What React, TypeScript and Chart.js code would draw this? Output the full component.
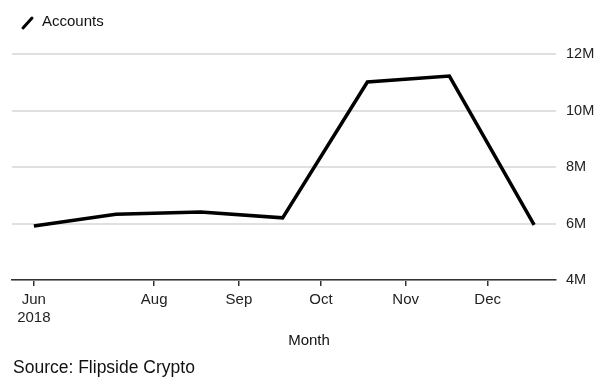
import React, { useEffect, useRef } from "react";
import { Chart, registerables } from "chart.js";

Chart.register(...registerables);

const seriesName = "Accounts";
const pointDates = ["2018-06-18", "2018-07-18", "2018-08-18", "2018-09-17", "2018-10-18", "2018-11-17", "2018-12-18"];
const accounts = [5910000, 6330000, 6410000, 6200000, 11010000, 11220000, 5950000];
const tickDates = ["2018-06-18", "2018-08-01", "2018-09-01", "2018-10-01", "2018-11-01", "2018-12-01"];
const tickLabels: (string | string[])[] = [["Jun", "2018"], "Aug", "Sep", "Oct", "Nov", "Dec"];
const xDomain = ["2018-06-10", "2018-12-26"];
const yTicks = [4000000, 6000000, 8000000, 10000000, 12000000];
const xTitle = "Month";
const sourceText = "Source: Flipside Crypto";

const EPOCH = Date.UTC(2018, 5, 1);
const toDay = (s: string) => {
  const [y, m, d] = s.split("-").map(Number);
  return Math.round((Date.UTC(y, m - 1, d) - EPOCH) / 86400000);
};

const FONT = "'Liberation Sans', Arial, Helvetica, sans-serif";

export default function App() {
  const ref = useRef<HTMLCanvasElement>(null);
  useEffect(() => {
    if (!ref.current) return;
    const tickDays = tickDates.map(toDay);
    const textPlugin = {
      id: "texts",
      afterDraw(chart: any) {
        const ctx = chart.ctx;
        ctx.save();
        ctx.strokeStyle = "#000";
        ctx.lineWidth = 3;
        ctx.lineCap = "round";
        ctx.beginPath();
        ctx.moveTo(23, 28);
        ctx.lineTo(32, 18);
        ctx.stroke();
        ctx.fillStyle = "#111";
        ctx.textBaseline = "middle";
        ctx.textAlign = "left";
        ctx.font = `15px ${FONT}`;
        ctx.fillText(seriesName, 42, 22);
        ctx.textAlign = "center";
        ctx.font = `15px ${FONT}`;
        ctx.fillText(xTitle, 309, 341);
        ctx.textAlign = "left";
        ctx.font = `17.5px ${FONT}`;
        ctx.fillText(sourceText, 13, 368);
        ctx.restore();
      },
    };
    const chart = new Chart(ref.current, {
      type: "line",
      data: {
        datasets: [
          {
            label: seriesName,
            data: pointDates.map((d, i) => ({ x: toDay(d), y: accounts[i] })),
            borderColor: "#000",
            borderWidth: 3.5,
            pointRadius: 0,
            tension: 0,
            borderJoinStyle: "miter",
          },
        ],
      },
      options: {
        animation: false,
        responsive: false,
        layout: { padding: { top: 54, left: 12, right: 0, bottom: 0 } },
        plugins: { legend: { display: false }, tooltip: { enabled: false } },
        scales: {
          x: {
            type: "linear",
            min: toDay(xDomain[0]),
            max: toDay(xDomain[1]),
            afterFit: (s: any) => {
              s.height = 101;
            },
            afterBuildTicks: (s: any) => {
              s.ticks = tickDays.map((v) => ({ value: v }));
            },
            grid: { drawOnChartArea: false, drawTicks: true, tickLength: 6, color: "#333", lineWidth: 1.5 },
            border: { display: true, color: "#333", width: 1.5 },
            ticks: {
              autoSkip: false,
              maxRotation: 0,
              padding: 5,
              color: "#222",
              font: { family: FONT, size: 15, lineHeight: 1.2 },
              callback: (_v: any, i: number) => tickLabels[i],
            },
          },
          y: {
            position: "right",
            min: yTicks[0],
            max: yTicks[yTicks.length - 1],
            afterFit: (s: any) => {
              s.width = 44;
            },
            afterBuildTicks: (s: any) => {
              s.ticks = yTicks.map((v) => ({ value: v }));
            },
            grid: { drawTicks: false, color: "#e0e0e0", lineWidth: 2 },
            border: { display: false },
            ticks: {
              padding: 10,
              color: "#222",
              font: { family: FONT, size: 14.5 },
              callback: (v: any) => `${Number(v) / 1000000}M`,
            },
          },
        },
      },
      plugins: [textPlugin],
    } as any);
    return () => chart.destroy();
  }, []);
  return (
    <canvas
      ref={ref}
      width={600}
      height={381}
      style={{ position: "absolute", left: 0, top: 0, width: 600, height: 381, display: "block" }}
    />
  );
}
